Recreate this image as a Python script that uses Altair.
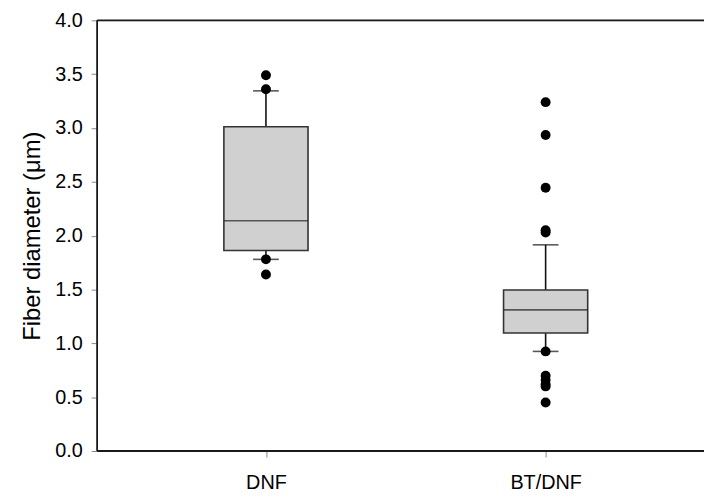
import altair as alt
import pandas as pd

# ---- data ----
categories = ["DNF", "BT/DNF"]
whisker_low = [1.78, 0.925]
q1 = [1.862, 1.096]
median = [2.138, 1.311]
q3 = [3.011, 1.495]
whisker_high = [3.345, 1.915]

outlier_cat = ["DNF", "DNF", "DNF", "DNF",
               "BT/DNF", "BT/DNF", "BT/DNF", "BT/DNF", "BT/DNF", "BT/DNF",
               "BT/DNF", "BT/DNF", "BT/DNF", "BT/DNF", "BT/DNF"]
outlier_val = [3.49, 3.36, 1.78, 1.64,
               3.24, 2.935, 2.445, 2.05, 2.03, 0.925,
               0.70, 0.66, 0.62, 0.60, 0.45]

y_ticks = [0.0, 0.5, 1.0, 1.5, 2.0, 2.5, 3.0, 3.5, 4.0]
y_min, y_max = 0.0, 4.0

summary = pd.DataFrame({
    "cat": categories, "lo": whisker_low, "q1": q1, "med": median,
    "q3": q3, "hi": whisker_high,
})
outliers = pd.DataFrame({"cat": outlier_cat, "val": outlier_val})

FONT = "Liberation Sans"
DARK = "#1a1a1a"
W, H = 613, 435

x_enc = alt.X(
    "cat:N", sort=categories, title=None,
    scale=alt.Scale(type="point", padding=0.585, align=0.516),
    axis=alt.Axis(labelAngle=0, tickSize=6, labelPadding=16, labelFontSize=20, domain=False),
)
y_scale = alt.Scale(domain=[y_min, y_max], nice=False, zero=True)
y_axis = alt.Axis(values=y_ticks, format=".1f", tickSize=6, labelPadding=9,
                  labelFontSize=20, title="Fiber diameter (μm)", titleFontSize=24,
                  titleFontWeight="normal", titlePadding=10, grid=False, domain=False)

base = alt.Chart(summary)

whisk_up = base.mark_rule(color="#111111", strokeWidth=1.6).encode(
    x=x_enc, y=alt.Y("q3:Q", scale=y_scale, axis=y_axis), y2="hi:Q")
whisk_dn = base.mark_rule(color="#111111", strokeWidth=1.6).encode(
    x=x_enc, y=alt.Y("lo:Q", scale=y_scale, axis=y_axis), y2="q1:Q")
cap_hi = base.mark_tick(orient="horizontal", size=26, thickness=1.6, color="#111111").encode(
    x=x_enc, y=alt.Y("hi:Q", scale=y_scale, axis=y_axis))
cap_lo = base.mark_tick(orient="horizontal", size=26, thickness=1.6, color="#111111").encode(
    x=x_enc, y=alt.Y("lo:Q", scale=y_scale, axis=y_axis))
box = base.mark_bar(size=85, color="#d0d0d0", stroke="#333333", strokeWidth=1.6).encode(
    x=x_enc, y=alt.Y("q1:Q", scale=y_scale, axis=y_axis), y2="q3:Q")
med = base.mark_tick(orient="horizontal", size=85, thickness=1.6, color="#222222").encode(
    x=x_enc, y=alt.Y("med:Q", scale=y_scale, axis=y_axis))
pts = alt.Chart(outliers).mark_point(filled=True, size=100, color="black", opacity=1).encode(
    x=x_enc, y=alt.Y("val:Q", scale=y_scale, axis=y_axis))

frame = alt.Chart(summary.head(1))
top_line = frame.mark_rule(color=DARK, strokeWidth=1.8).encode(
    x=alt.value(0), x2=alt.value(W), y=alt.datum(y_max))
bottom_line = frame.mark_rule(color=DARK, strokeWidth=1.8).encode(
    x=alt.value(0), x2=alt.value(W), y=alt.datum(y_min))
left_line = frame.mark_rule(color=DARK, strokeWidth=1.8).encode(
    x=alt.value(0), y=alt.datum(y_min), y2=alt.datum(y_max))

chart = alt.layer(whisk_up, whisk_dn, cap_hi, cap_lo, box, med, pts,
                  top_line, bottom_line, left_line).properties(
    width=W, height=H,
    autosize=alt.AutoSizeParams(type="none"),
    padding={"left": 90, "top": 10, "right": 0, "bottom": 44},
).configure_view(stroke=None).configure_axis(
    labelFont=FONT, titleFont=FONT, labelColor="#222222", titleColor="#222222",
    tickColor=DARK, tickWidth=1.6, grid=False,
).configure(background="white")

chart.save("out.html", embed_options={"renderer": "svg", "actions": False})
